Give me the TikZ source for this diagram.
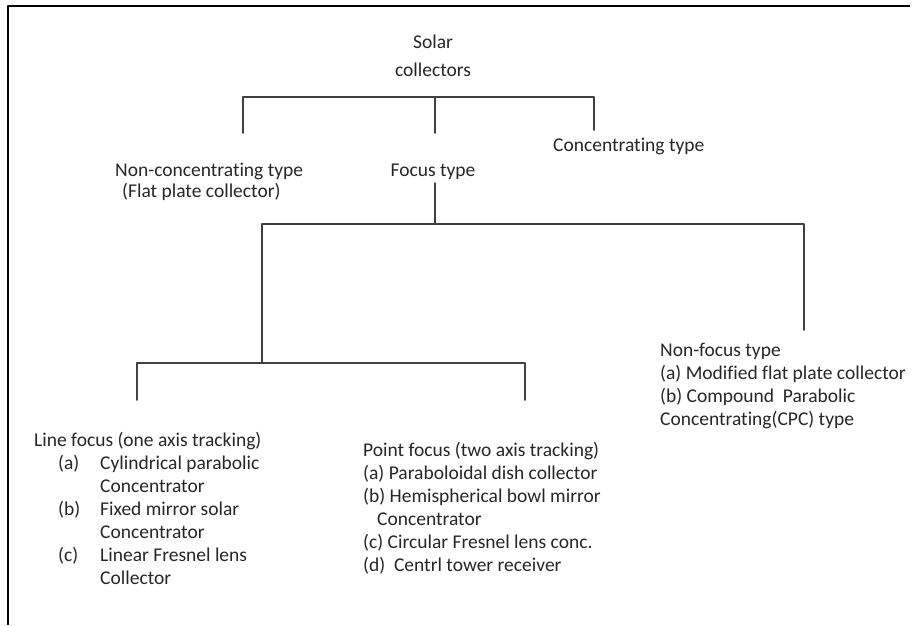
\documentclass[tikz,border=0pt]{standalone}
\usepackage{fontspec}
\setmainfont{Carlito}[Ligatures={NoCommon}]
\begin{document}
\begin{tikzpicture}[x=1pt,y=-1pt, line join=round, line cap=round,
    font=\fontsize{19.5}{23}\selectfont,
    txt/.style={inner sep=0pt, anchor=base west, text=black!85},
    branch/.style={draw=black!75, line width=1.5pt}]
    \def\yone{97} \def\ytwo{224} \def\ythree{363} % bar heights
    \useasboundingbox (0,0) rectangle (920,625);
    \draw[line width=2.6pt, line cap=butt] (910,6) -- (8,6) -- (8,625);
    % text nodes
    \node[txt, anchor=base] (solar) at (433,48) {\begin{tabular}[t]{@{}c@{}}Solar\\[5pt]collectors\end{tabular}};
    \node[txt] (conc) at (553,151) {Concentrating type};
    \node[txt] (nonconc) at (115,176) {\begin{tabular}[t]{@{}l@{}}Non-concentrating type\\[-2pt]\hspace*{7pt}(Flat plate collector)\end{tabular}};
    \node[txt, anchor=base] (focus) at (433,176) {Focus type};
    \node[txt] (nonfocus) at (660,356) {\begin{tabular}[t]{@{}l@{}}Non-focus type\\(a) Modified flat plate collector\\(b) Compound\ \ Parabolic\\Concentrating(CPC) type\end{tabular}};
    \node[txt] (linefocus) at (34,446) {\begin{tabular}[t]{@{}l@{}}Line focus (one axis tracking)\\
        \hspace*{24pt}\makebox[42pt][l]{(a)}Cylindrical parabolic\\
        \hspace*{66pt}Concentrator\\
        \hspace*{24pt}\makebox[42pt][l]{(b)}Fixed mirror solar\\
        \hspace*{66pt}Concentrator\\
        \hspace*{24pt}\makebox[42pt][l]{(c)}Linear Fresnel lens\\
        \hspace*{66pt}Collector\end{tabular}};
    \node[txt] (pointfocus) at (363,456) {\begin{tabular}[t]{@{}l@{}}Point focus (two axis tracking)\\
        (a) Paraboloidal dish collector\\
        (b) Hemispherical bowl mirror\\
        \hspace*{14pt}Concentrator\\
        (c) Circular Fresnel lens conc.\\
        (d)\ \ Centrl tower receiver\end{tabular}};
    % connectors
    \coordinate (bar1) at (0,\yone); \coordinate (bar2) at (0,\ytwo);
    \coordinate (nc) at (243,133); \coordinate (ft) at (435,133); \coordinate (ct) at (594,130);
    \draw[branch] (nc) -- (nc |- bar1) -- (ct |- bar1) -- (ct);
    \draw[branch] (ft) -- (ft |- bar1);
    \coordinate (fb) at (435,183);
    \coordinate (lf) at (262,\ythree); \coordinate (nf) at (804,330);
    \draw[branch] (fb) -- (fb |- bar2);
    \draw[branch] (lf) -- (lf |- bar2) -- (nf |- bar2) -- (nf);
    \coordinate (lft) at (137,400); \coordinate (pft) at (525,400);
    \draw[branch] (lft) -- (lft |- lf) -- (pft |- lf) -- (pft);
\end{tikzpicture}
\end{document}
